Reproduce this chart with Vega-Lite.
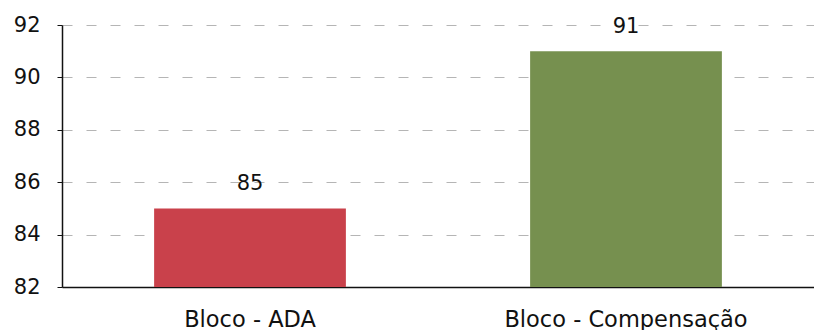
{
  "$schema": "https://vega.github.io/schema/vega-lite/v6.json",
  "autosize": "none",
  "width": 752,
  "height": 262,
  "padding": {"left": 62, "top": 25, "right": 0, "bottom": 43},
  "background": "white",
  "data": {"values": [
    {"bloco": "Bloco - ADA", "valor": 85},
    {"bloco": "Bloco - Compensação", "valor": 91}
  ]},
  "config": {"view": {"stroke": null}, "font": "DejaVu Sans"},
  "encoding": {
    "x": {"field": "bloco", "type": "nominal", "sort": null,
      "scale": {"paddingInner": 0.49, "paddingOuter": 0.245},
      "axis": {"title": null, "labelAngle": 0, "ticks": false, "labelPadding": 21, "labelFontSize": 22.5, "labelLimit": 0, "labelColor": "#111", "domainColor": "#111", "domainWidth": 1.5}},
    "y": {"field": "valor", "type": "quantitative",
      "scale": {"domain": [82, 92], "zero": false, "nice": false},
      "axis": {"title": null, "values": [82, 84, 86, 88, 90, 92], "tickSize": 5, "tickColor": "#111", "labelPadding": 17, "labelFontSize": 21, "labelColor": "#111", "domainColor": "#111", "domainWidth": 1.5,
        "grid": true, "gridColor": "#b5b5b5", "gridDash": [10, 14], "gridWidth": 1}}
  },
  "layer": [
    {"mark": {"type": "bar", "clip": true},
      "encoding": {"color": {"field": "bloco", "type": "nominal", "legend": null,
        "scale": {"domain": ["Bloco - ADA", "Bloco - Compensação"], "range": ["#c9414b", "#76904f"]}}}},
    {"mark": {"type": "text", "baseline": "bottom", "dy": -14, "fontSize": 21, "color": "#111"},
      "encoding": {"text": {"field": "valor", "type": "quantitative"}}}
  ]
}
